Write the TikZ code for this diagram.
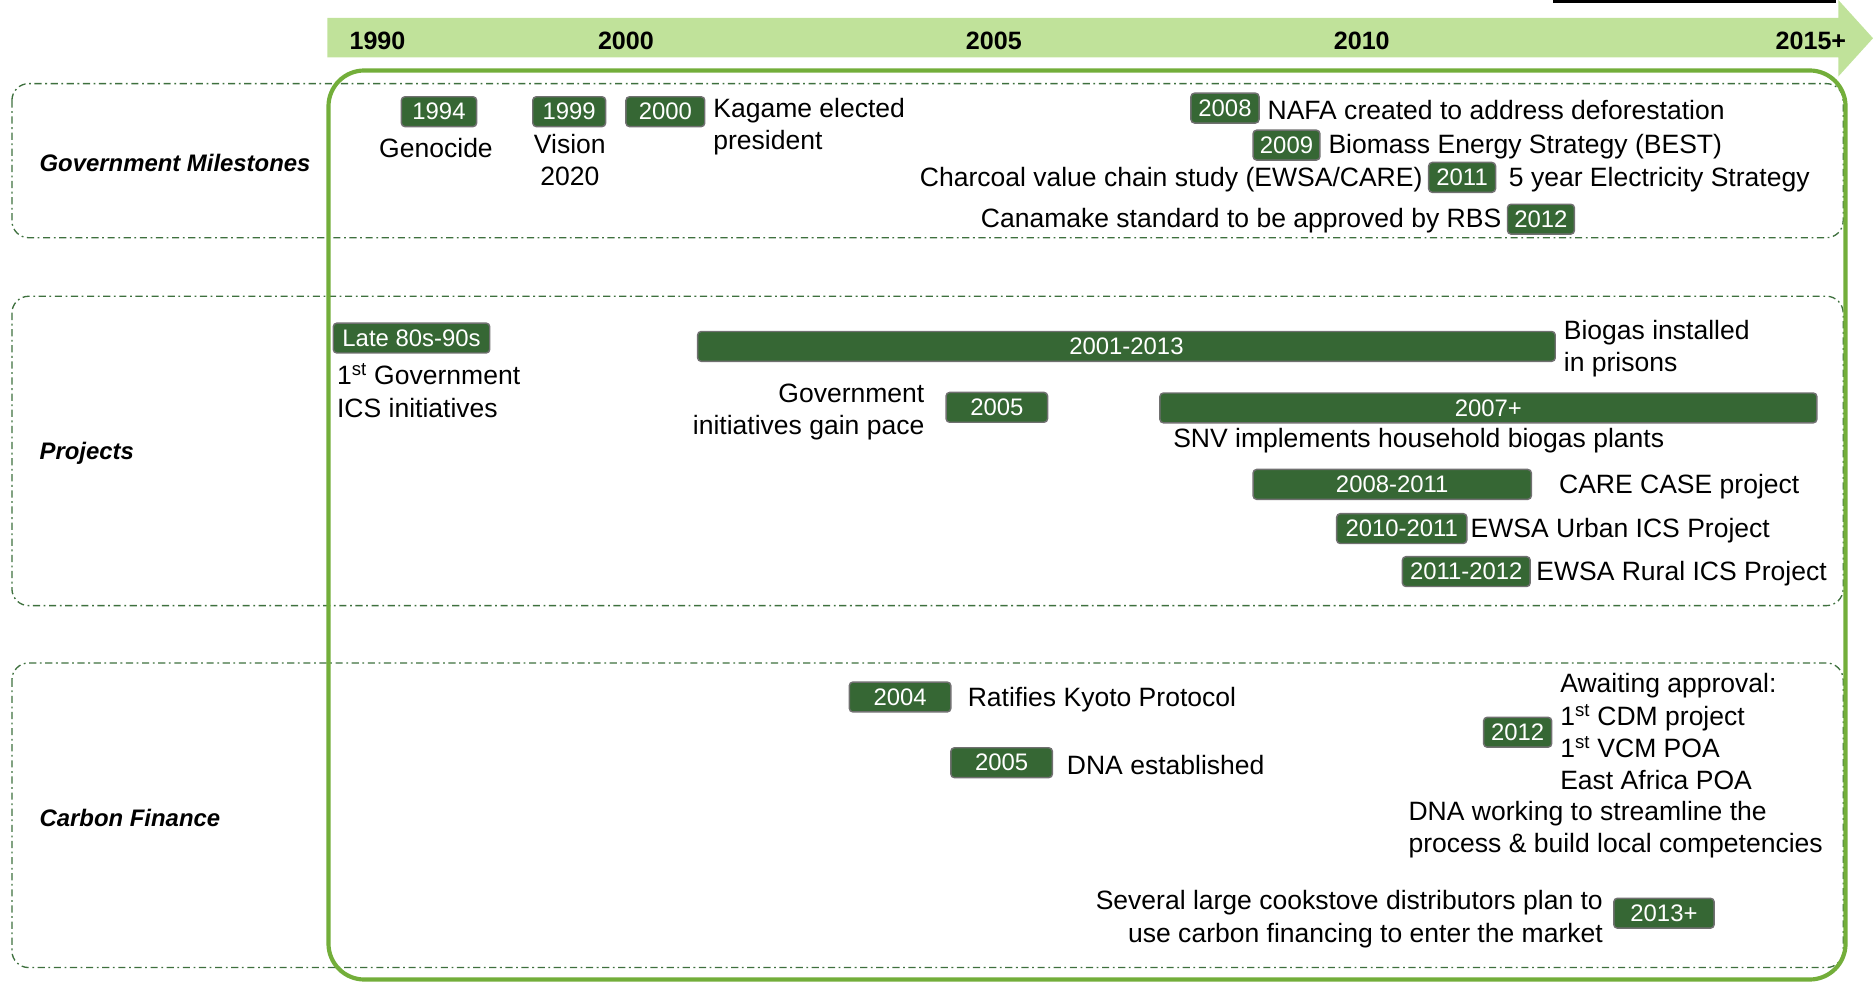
\documentclass[tikz,border=0pt]{standalone}
\usepackage{fontspec}
\setmainfont{Liberation Sans}
\definecolor{barlight}{RGB}{192,226,154}
\definecolor{framegreen}{RGB}{115,174,58}
\definecolor{badgegreen}{RGB}{54,103,52}
\definecolor{rowline}{RGB}{62,112,62}
\definecolor{badgeedge}{RGB}{112,112,112}

\begin{document}
\begin{tikzpicture}[
        x=1pt, y=-1pt,
        badge/.style={rectangle, draw=badgeedge, line width=1.2pt, fill=badgegreen, rounded corners=3pt, text=white, font=\fontsize{20}{24}\selectfont, minimum height=25pt, inner sep=0pt},
        info/.style={font=\fontsize{22.2}{27}\selectfont, inner sep=0pt, align=left, yshift=-1.5pt},
        year/.style={font=\fontsize{21}{25}\selectfont\bfseries, inner sep=0pt},
        rowlabel/.style={font=\fontsize{20}{24}\selectfont\bfseries\itshape, inner sep=0pt, anchor=west, yshift=-1.5pt},
        row/.style={draw=rowline, line width=1.1pt, dash pattern=on 6pt off 3pt on 1.5pt off 3pt, rounded corners=14pt}
    ]
        \useasboundingbox (0,0) rectangle (1568,822);

        % Time axis
        \fill[barlight] (274,15) -- (1539,15) -- (1539,0) -- (1568,32) -- (1539,64) -- (1539,48) -- (274,48) -- cycle;
        \fill[black] (1300,0) rectangle (1537,2.5);
        \node[year] (y1990) at (316,34) {1990};
        \node[year] (y2000) at (524,34) {2000};
        \node[year] (y2005) at (832,34) {2005};
        \node[year] (y2010) at (1140,34) {2010};
        \node[year] (y2015) at (1516,34) {2015+};

        % Rows
        \draw[row] (10,70) rectangle (1543,199);
        \draw[row] (10,248) rectangle (1543,507);
        \draw[row] (10,555) rectangle (1543,810);
        \node[rowlabel] (milestones) at (33,135) {Government Milestones};
        \node[rowlabel] (projects) at (33,378) {Projects};
        \node[rowlabel] (carbon) at (33,683) {Carbon Finance};

        % Frame round the timeline
        \draw[framegreen, line width=3.5pt, rounded corners=30pt] (275,59) rectangle (1545,820);

        % Government milestones
        \node[badge, minimum width=63pt] (g1994) at (367.5,93.5) {1994};
        \node[info, align=center] (genocide) at (365,122) {Genocide};
        \node[badge, minimum width=61pt] (g1999) at (476.5,93.5) {1999};
        \node[info, align=center] (vision) at (477,132.5) {Vision\\2020};
        \node[badge, minimum width=66pt] (g2000) at (557,93.5) {2000};
        \node[info, anchor=west] (kagame) at (597,104.5) {Kagame elected\\president};
        \node[badge, minimum width=57pt] (g2008) at (1025.5,90.5) {2008};
        \node[info, anchor=west] (nafa) at (1061,90.5) {NAFA created to address deforestation};
        \node[badge, minimum width=56pt] (g2009) at (1077,121.5) {2009};
        \node[info, anchor=west] (best) at (1112,121.5) {Biomass Energy Strategy (BEST)};
        \node[badge, minimum width=56pt] (g2011) at (1224,148.5) {2011};
        \node[info, anchor=east] (charcoal) at (1191,148.5) {Charcoal value chain study (EWSA/CARE)};
        \node[info, anchor=west] (elec) at (1263,148.5) {5 year Electricity Strategy};
        \node[badge, minimum width=56pt] (g2012) at (1290,183.5) {2012};
        \node[info, anchor=east] (canamake) at (1257,183.5) {Canamake standard to be approved by RBS};

        % Projects
        \node[badge, minimum width=131pt] (p80s) at (344.5,283) {Late 80s-90s};
        \node[info, anchor=west] (firstgov) at (282,325.5) {1\textsuperscript{st} Government\\ICS initiatives};
        \node[badge, minimum width=718pt] (p0113) at (943,290) {2001-2013};
        \node[info, anchor=west] (prisons) at (1309,290.5) {Biogas installed\\in prisons};
        \node[info, anchor=east, align=right] (gainpace) at (774,343.5) {Government\\initiatives gain pace};
        \node[badge, minimum width=85pt] (p2005) at (834.5,341) {2005};
        \node[badge, minimum width=550pt] (p2007) at (1246,341.5) {2007+};
        \node[info, anchor=west] (snv) at (982,367) {SNV implements household biogas plants};
        \node[badge, minimum width=233pt] (p0811) at (1165.5,405.5) {2008-2011};
        \node[info, anchor=west] (care) at (1305,406) {CARE CASE project};
        \node[badge, minimum width=109pt] (p1011) at (1173.5,442.5) {2010-2011};
        \node[info, anchor=west] (urban) at (1231,442.5) {EWSA Urban ICS Project};
        \node[badge, minimum width=107pt] (p1112) at (1227.5,478.5) {2011-2012};
        \node[info, anchor=west] (rural) at (1286,478.5) {EWSA Rural ICS Project};

        % Carbon finance
        \node[badge, minimum width=85pt] (c2004) at (753.5,583.5) {2004};
        \node[info, anchor=west] (kyoto) at (810,584) {Ratifies Kyoto Protocol};
        \node[badge, minimum width=85pt] (c2005) at (838.5,638.5) {2005};
        \node[info, anchor=west] (dna) at (893,639) {DNA established};
        \node[badge, minimum width=57pt] (c2012) at (1270.5,613) {2012};
        \node[info, anchor=west] (awaiting) at (1306,611) {Awaiting approval:\\1\textsuperscript{st} CDM project\\1\textsuperscript{st} VCM POA\\East Africa POA};
        \node[info, anchor=west] (streamline) at (1179,693) {DNA working to streamline the\\process \& build local competencies};
        \node[info, anchor=east, align=right] (cookstove) at (1342,768) {Several large cookstove distributors plan to\\use carbon financing to enter the market};
        \node[badge, minimum width=84pt] (c2013) at (1393,764.5) {2013+};

    \end{tikzpicture}
\end{document}
